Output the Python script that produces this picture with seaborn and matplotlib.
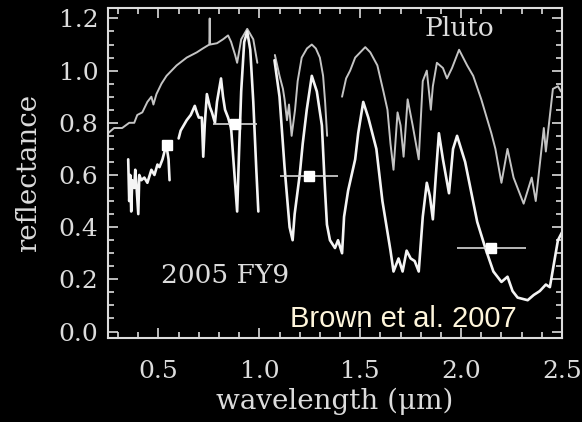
import numpy as np
import pandas as pd
import matplotlib
matplotlib.use("Agg")
import matplotlib.pyplot as plt
import seaborn as sns

# Pluto reflectance spectrum (NaN marks gaps in the data)
pluto_wl = [0.250, 0.280, 0.320, 0.355, 0.380, 0.395, 0.420, 0.445, 0.465, 0.475,
            0.490, 0.515, 0.540, 0.590, 0.640, 0.690, 0.720, 0.752, 0.754, 0.756,
            0.790, 0.820, 0.845, 0.860, 0.880, 0.890, 0.910, 0.940, 0.970, 0.990,
            np.nan,
            1.077, 1.100, 1.117, 1.125, 1.137, 1.147, 1.160, 1.177, 1.190, 1.210,
            1.236, 1.260, 1.280, 1.300, 1.316, 1.326, 1.336,
            np.nan,
            1.410, 1.430, 1.450, 1.475, 1.500, 1.525, 1.550, 1.585, 1.615, 1.635,
            1.650, 1.665, 1.685, 1.700, 1.715, 1.735, 1.760, 1.790, 1.810, 1.830,
            1.850, 1.860, 1.880, 1.910, 1.930, 1.955, 1.990, 2.030, 2.060, 2.100,
            2.150, 2.170, 2.200, 2.230, 2.260, 2.310, 2.350, 2.370, 2.410, 2.420,
            2.455, 2.480, 2.495]
pluto_refl = [0.76, 0.78, 0.78, 0.80, 0.80, 0.83, 0.84, 0.88, 0.90, 0.87,
              0.91, 0.95, 0.98, 1.02, 1.05, 1.07, 1.085, 1.10, 1.20, 1.10,
              1.105, 1.12, 1.135, 1.11, 1.06, 1.03, 1.12, 1.16, 1.12, 1.03,
              np.nan,
              1.06, 0.98, 0.93, 0.89, 0.81, 0.87, 0.75, 0.85, 0.96, 1.05,
              1.085, 1.10, 1.085, 1.05, 0.98, 0.88, 0.75,
              np.nan,
              0.90, 0.97, 1.00, 1.05, 1.07, 1.09, 1.07, 1.02, 0.92, 0.85,
              0.72, 0.62, 0.84, 0.79, 0.67, 0.89, 0.79, 0.66, 0.96, 1.00,
              0.85, 0.94, 1.03, 1.01, 0.97, 1.01, 1.08, 1.02, 0.98, 0.89,
              0.76, 0.70, 0.57, 0.70, 0.59, 0.49, 0.59, 0.50, 0.78, 0.69,
              0.93, 0.94, 0.92]

# 2005 FY9 reflectance spectrum
fy9_wl = [0.350, 0.355, 0.360, 0.365, 0.370, 0.380, 0.385, 0.390, 0.400, 0.405,
          0.415, 0.430, 0.445, 0.465, 0.480, 0.495, 0.505, 0.520, 0.530, 0.540,
          0.550, 0.555,
          np.nan,
          0.600, 0.610, 0.640, 0.660, 0.680, 0.690, 0.700, 0.715, 0.722, 0.730,
          0.740, 0.755, 0.765, 0.780, 0.790, 0.810, 0.820, 0.830, 0.845, 0.860,
          0.875, 0.890, 0.900, 0.910, 0.925, 0.940, 0.955, 0.970, 0.985, 0.995,
          np.nan,
          1.075, 1.100, 1.125, 1.150, 1.165, 1.175, 1.200, 1.215, 1.235, 1.260,
          1.285, 1.310, 1.325, 1.335, 1.350, 1.375, 1.390, 1.410, 1.420, 1.440,
          1.475, 1.490, 1.515, 1.540, 1.580, 1.610, 1.650, 1.665, 1.690, 1.710,
          1.730, 1.750, 1.770, 1.790, 1.810, 1.830, 1.845, 1.860, 1.875, 1.890,
          1.910, 1.940, 1.960, 1.980, 2.020, 2.080, 2.120, 2.160, 2.200, 2.230,
          2.255, 2.280, 2.330, 2.360, 2.390, 2.420, 2.440, 2.460, 2.480, 2.500]
fy9_refl = [0.66, 0.50, 0.60, 0.46, 0.58, 0.55, 0.62, 0.57, 0.45, 0.60,
            0.58, 0.59, 0.57, 0.62, 0.60, 0.64, 0.63, 0.66, 0.69, 0.71,
            0.66, 0.58,
            np.nan,
            0.74, 0.77, 0.81, 0.83, 0.865, 0.84, 0.82, 0.82, 0.67, 0.80,
            0.91, 0.86, 0.84, 0.80, 0.88, 0.97, 0.90, 0.85, 0.82, 0.78,
            0.62, 0.46, 0.70, 0.92, 1.11, 1.15, 1.08, 0.88, 0.62, 0.46,
            np.nan,
            1.04, 0.90, 0.63, 0.40, 0.35, 0.45, 0.60, 0.72, 0.85, 0.98,
            0.92, 0.79, 0.55, 0.41, 0.35, 0.32, 0.35, 0.30, 0.44, 0.54,
            0.66, 0.76, 0.88, 0.82, 0.70, 0.50, 0.31, 0.23, 0.28, 0.23,
            0.31, 0.28, 0.27, 0.23, 0.44, 0.57, 0.52, 0.43, 0.60, 0.76,
            0.66, 0.53, 0.70, 0.75, 0.65, 0.42, 0.32, 0.23, 0.19, 0.21,
            0.155, 0.13, 0.12, 0.14, 0.155, 0.18, 0.17, 0.26, 0.35, 0.38]

# Broadband photometry points with bandpass widths
phot_wl = [0.54, 0.88, 1.245, 2.15]
phot_refl = [0.715, 0.795, 0.595, 0.32]
phot_halfwidth = [0.0, 0.11, 0.145, 0.17]

x_ticks = [0.5, 1.0, 1.5, 2.0, 2.5]
y_ticks = [0.0, 0.2, 0.4, 0.6, 0.8, 1.0, 1.2]


def segmented(wl, refl):
    """Split a spectrum at NaN gaps into numbered segments."""
    df = pd.DataFrame({"wavelength": wl, "reflectance": refl})
    df["segment"] = df["wavelength"].isna().cumsum()
    return df.dropna()


sns.set_style("ticks")
fg = "#dcdcdc"
plt.rcParams.update({
    "figure.facecolor": "black",
    "axes.facecolor": "black",
    "axes.edgecolor": fg,
    "axes.labelcolor": fg,
    "xtick.color": fg,
    "ytick.color": fg,
    "text.color": fg,
})
plt.rcParams["font.family"] = ["DejaVu Serif"]

fig = plt.figure(figsize=(5.82, 4.22), dpi=100)
ax = fig.add_axes([0.1856, 0.199, 0.780, 0.782])

pluto = segmented(pluto_wl, pluto_refl)
fy9 = segmented(fy9_wl, fy9_refl)

sns.lineplot(data=pluto, x="wavelength", y="reflectance", units="segment",
             estimator=None, sort=False, color="#c4c4c4", lw=1.4, ax=ax)
sns.lineplot(data=fy9, x="wavelength", y="reflectance", units="segment",
             estimator=None, sort=False, color="#f4f4f4", lw=1.9, ax=ax)

ax.errorbar(phot_wl, phot_refl, xerr=phot_halfwidth, fmt="s", ms=7.5,
            mfc="white", mec="white", ecolor="#d8d8d8", elinewidth=1.2,
            capsize=0, zorder=5)

ax.set_xlim(0.25, 2.5)
ax.set_ylim(-0.025, 1.24)
ax.set_xticks(x_ticks)
ax.set_yticks(y_ticks)
ax.set_xticklabels([f"{v:.1f}" for v in x_ticks])
ax.set_yticklabels([f"{v:.1f}" for v in y_ticks])
ax.set_xticks(np.arange(0.3, 2.5, 0.1), minor=True)
ax.set_yticks(np.arange(0.0, 1.24, 0.05), minor=True)
ax.tick_params(which="both", direction="in", top=True, right=True,
               color=fg, width=1.2)
ax.tick_params(which="major", length=7, labelsize=18)
ax.tick_params(axis="x", which="major", pad=16)
ax.tick_params(axis="y", which="major", pad=7)
ax.tick_params(which="minor", length=4)
for s in ax.spines.values():
    s.set_linewidth(1.5)
    s.set_color(fg)

ax.set_xlabel("wavelength (μm)", fontsize=20, labelpad=3)
ax.set_ylabel("reflectance", fontsize=20, labelpad=12)

ax.text(1.99, 1.16, "Pluto", fontsize=19, ha="center", va="center", color=fg)
ax.text(0.83, 0.215, "2005 FY9", fontsize=19, ha="center", va="center", color=fg)
ax.text(1.714, 0.048, "Brown et al. 2007", fontsize=21, ha="center", va="center",
        color="#fff6dc", family=["Liberation Sans", "DejaVu Sans"])

fig.savefig("out.png", dpi=100, facecolor="black")
